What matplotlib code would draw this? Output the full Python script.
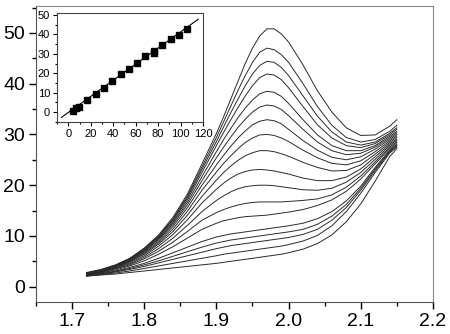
import matplotlib
matplotlib.use('Agg')
import matplotlib.pyplot as plt
from matplotlib.ticker import MultipleLocator

plt.rcParams['font.family'] = ['Liberation Sans', 'DejaVu Sans']

# shared x grid for all spectra
energy = [1.72, 1.74, 1.76, 1.78, 1.80, 1.82, 1.84, 1.86, 1.88, 1.90,
          1.91, 1.92, 1.93, 1.94, 1.95, 1.96, 1.97, 1.98, 1.99,
          2.00, 2.02, 2.04, 2.06, 2.08, 2.10, 2.12, 2.14, 2.15]

spectra = [
    [2.8, 3.4, 4.3, 5.6, 7.6, 10.2, 13.7, 18.3, 24.2, 30.2,
     33.5, 37.0, 40.5, 44.0, 47.0, 49.4, 50.8, 50.8, 49.8,
     48.2, 43.7, 38.6, 34.4, 31.3, 29.8, 29.9, 31.6, 32.9],
    [2.7, 3.3, 4.2, 5.5, 7.5, 10.0, 13.4, 17.9, 23.6, 29.4,
     32.5, 35.6, 38.7, 41.6, 44.2, 46.2, 47.0, 46.7, 45.7,
     44.2, 40.0, 35.5, 31.8, 29.4, 28.5, 29.0, 30.6, 31.8],
    [2.7, 3.3, 4.2, 5.5, 7.4, 9.9, 13.2, 17.6, 23.1, 28.6,
     31.5, 34.3, 37.0, 39.6, 41.9, 43.6, 44.4, 44.2, 43.2,
     41.6, 37.6, 33.6, 30.5, 28.5, 27.9, 28.5, 30.2, 31.3],
    [2.6, 3.2, 4.1, 5.4, 7.3, 9.7, 12.9, 17.2, 22.5, 27.8,
     30.4, 32.9, 35.3, 37.6, 39.6, 41.2, 41.9, 41.7, 40.8,
     39.2, 35.5, 31.9, 29.3, 27.8, 27.4, 28.2, 29.9, 31.0],
    [2.6, 3.2, 4.1, 5.3, 7.1, 9.5, 12.6, 16.7, 21.7, 26.6,
     29.0, 31.2, 33.3, 35.2, 36.8, 38.0, 38.5, 38.3, 37.5,
     36.1, 32.9, 29.9, 27.8, 26.8, 26.8, 27.8, 29.6, 30.6],
    [2.5, 3.1, 4.0, 5.2, 7.0, 9.3, 12.3, 16.2, 20.9, 25.4,
     27.5, 29.5, 31.4, 33.0, 34.4, 35.4, 35.8, 35.6, 34.9,
     33.7, 31.0, 28.5, 26.8, 26.0, 26.3, 27.5, 29.3, 30.3],
    [2.5, 3.1, 3.9, 5.1, 6.8, 9.0, 11.9, 15.6, 20.0, 24.0,
     25.9, 27.7, 29.3, 30.7, 31.9, 32.6, 32.9, 32.7, 32.1,
     31.0, 28.8, 26.9, 25.5, 25.0, 25.6, 27.1, 29.0, 30.0],
    [2.4, 3.0, 3.8, 5.0, 6.6, 8.7, 11.4, 14.9, 19.0, 22.6,
     24.3, 25.8, 27.2, 28.4, 29.3, 29.9, 30.0, 29.8, 29.3,
     28.6, 26.9, 25.4, 24.3, 24.0, 24.8, 26.6, 28.7, 29.7],
    [2.4, 3.0, 3.8, 4.9, 6.4, 8.4, 10.9, 14.1, 17.8, 21.0,
     22.5, 23.8, 24.9, 25.8, 26.4, 26.8, 26.8, 26.6, 26.2,
     25.7, 24.5, 23.5, 22.8, 22.9, 24.0, 26.1, 28.4, 29.4],
    [2.3, 2.9, 3.7, 4.7, 6.1, 8.0, 10.3, 13.2, 16.5, 19.2,
     20.4, 21.4, 22.2, 22.7, 23.0, 23.1, 23.0, 22.8, 22.5,
     22.2, 21.4, 20.9, 20.9, 21.6, 23.2, 25.6, 28.1, 29.1],
    [2.3, 2.9, 3.6, 4.5, 5.8, 7.5, 9.6, 12.1, 14.8, 17.0,
     17.9, 18.7, 19.3, 19.7, 19.9, 20.0, 20.0, 19.9, 19.7,
     19.5, 19.1, 19.0, 19.4, 20.6, 22.5, 25.1, 27.8, 28.9],
    [2.3, 2.8, 3.5, 4.3, 5.5, 7.0, 8.8, 10.9, 13.1, 14.6,
     15.2, 15.7, 16.1, 16.4, 16.6, 16.7, 16.7, 16.7, 16.7,
     16.8, 17.0, 17.3, 18.1, 19.6, 21.8, 24.6, 27.5, 28.6],
    [2.2, 2.7, 3.3, 4.1, 5.1, 6.4, 7.9, 9.6, 11.3, 12.5,
     13.0, 13.3, 13.6, 13.8, 13.9, 14.0, 14.1, 14.3, 14.5,
     14.7, 15.2, 16.0, 17.1, 18.8, 21.2, 24.2, 27.2, 28.4],
    [2.2, 2.6, 3.1, 3.8, 4.6, 5.6, 6.7, 7.8, 8.9, 9.8,
     10.1, 10.4, 10.6, 10.8, 11.0, 11.2, 11.4, 11.6, 11.8,
     12.0, 12.5, 13.4, 14.8, 16.9, 19.8, 23.5, 26.9, 28.1],
    [2.2, 2.5, 3.0, 3.6, 4.3, 5.1, 6.0, 6.9, 7.8, 8.6,
     8.9, 9.2, 9.4, 9.6, 9.8, 10.0, 10.2, 10.4, 10.6,
     10.8, 11.3, 12.3, 13.9, 16.2, 19.4, 23.2, 26.7, 27.9],
    [2.1, 2.5, 2.9, 3.4, 4.0, 4.7, 5.4, 6.1, 6.8, 7.5,
     7.8, 8.1, 8.3, 8.5, 8.7, 8.9, 9.1, 9.3, 9.5,
     9.7, 10.3, 11.3, 13.1, 15.6, 19.0, 22.9, 26.5, 27.7],
    [2.1, 2.4, 2.7, 3.1, 3.6, 4.1, 4.6, 5.1, 5.6, 6.1,
     6.4, 6.6, 6.8, 7.0, 7.2, 7.4, 7.6, 7.8, 8.0,
     8.3, 9.0, 10.1, 12.0, 14.8, 18.4, 22.5, 26.3, 27.5],
    [2.1, 2.3, 2.5, 2.8, 3.1, 3.4, 3.7, 4.0, 4.3, 4.6,
     4.8, 5.0, 5.2, 5.4, 5.6, 5.8, 6.0, 6.2, 6.4,
     6.7, 7.4, 8.5, 10.2, 12.8, 16.3, 20.8, 25.6, 27.2],
]

# inset data
inset_x = [4.1, 7.1, 9.5, 16.6, 24.3, 31.7, 39.1, 46.5, 54.0, 61.3, 68.7,
           76.1, 76.1, 83.8, 91.3, 98.7, 106.0]
inset_y = [0.7, 2.1, 2.8, 6.4, 9.1, 12.2, 15.8, 19.6, 22.2, 25.3, 28.7,
           30.5, 31.6, 34.5, 37.5, 39.5, 42.9]
fit_x = [-6.2, 115.8]
fit_y = [-2.7, 47.8]

fig = plt.figure(figsize=(4.5, 3.34), dpi=100)
ax = fig.add_axes([0.08, 0.096, 0.882, 0.886])
for s in spectra:
    ax.plot(energy, s, color='#2a2a2a', lw=0.7)

ax.set_xlim(1.65, 2.2)
ax.set_ylim(-3, 55.3)
ax.xaxis.set_minor_locator(MultipleLocator(0.05))
ax.yaxis.set_major_locator(MultipleLocator(10))
ax.yaxis.set_minor_locator(MultipleLocator(5))
ax.set_xticks([1.7, 1.8, 1.9, 2.0, 2.1, 2.2])
ax.set_xticklabels(['1.7', '1.8', '1.9', '2.0', '2.1', '2.2'])
ax.tick_params(which='major', direction='out', length=5, width=1, labelsize=14, pad=3)
ax.tick_params(which='minor', direction='out', length=3, width=1)
for side in ['top', 'right']:
    ax.spines[side].set_color('#888888')
for side in ['left', 'bottom']:
    ax.spines[side].set_color('#555555')

ins = fig.add_axes([0.127, 0.635, 0.324, 0.326])
ins.plot(fit_x, fit_y, color='black', lw=0.8)
ins.plot(inset_x, inset_y, 's', color='black', ms=4.5)
ins.set_xlim(-10, 120)
ins.set_ylim(-5, 51)
ins.xaxis.set_major_locator(MultipleLocator(20))
ins.xaxis.set_minor_locator(MultipleLocator(10))
ins.yaxis.set_major_locator(MultipleLocator(10))
ins.yaxis.set_minor_locator(MultipleLocator(5))
ins.tick_params(which='major', direction='out', length=3, width=0.8, labelsize=8, pad=2)
ins.tick_params(which='minor', direction='out', length=1.5, width=0.8)
for sp in ins.spines.values():
    sp.set_color('#444444')

fig.savefig('out.png', dpi=100)
